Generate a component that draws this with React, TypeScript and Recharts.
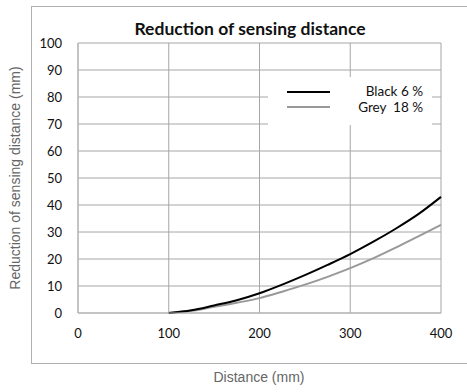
import { LineChart, Line, XAxis, YAxis, CartesianGrid } from 'recharts';

const distance = [100, 125, 150, 175, 200, 225, 250, 275, 300, 325, 350, 375, 400];
const black6 = [0, 1.0, 2.8, 4.7, 7.3, 10.5, 14.0, 17.8, 21.8, 26.3, 31.2, 36.6, 43.0];
const grey18 = [0, 0.8, 2.3, 3.8, 5.5, 7.9, 10.5, 13.4, 16.6, 20.2, 24.2, 28.4, 32.6];

const xTicks = [0, 100, 200, 300, 400];
const xMinorTicks = [0, 50, 100, 150, 200, 250, 300, 350, 400];
const yTicks = [0, 10, 20, 30, 40, 50, 60, 70, 80, 90, 100];
const yMinorTicks = Array.from({ length: 51 }, (_, i) => i * 2);

const data = distance.map((d, i) => ({ d, black: black6[i], grey: grey18[i] }));

const tickFont = { fill: '#111', fontSize: 13, fontFamily: 'Lato, sans-serif' };

export default function App() {
  return (
    <div style={{ position: 'absolute', left: 0, top: 0, width: 467, height: 392, background: '#fff', overflow: 'hidden' }}>
      {/* outer frame */}
      <div style={{ position: 'absolute', left: 31, top: 6, width: 450, height: 356, border: '1px solid #b0b0b0' }} />

      <div style={{ position: 'absolute', left: 0, top: 0 }}>
        <LineChart width={467} height={392} data={data} margin={{ top: 43, right: 26, bottom: 49, left: 38 }}>
          <CartesianGrid stroke="#a6a6a6" strokeWidth={1} />
          <XAxis
            dataKey="d"
            type="number"
            domain={[0, 400]}
            ticks={xTicks}
            height={30}
            axisLine={{ stroke: '#b5b5b5' }}
            tickLine={false}
            tickMargin={10}
            tick={tickFont}
          />
          <XAxis
            xAxisId="minor"
            dataKey="d"
            type="number"
            domain={[0, 400]}
            ticks={xMinorTicks}
            mirror
            axisLine={false}
            tick={false}
            tickSize={4}
            tickLine={{ stroke: '#b5b5b5' }}
          />
          <YAxis
            type="number"
            domain={[0, 100]}
            ticks={yTicks}
            width={40}
            axisLine={{ stroke: '#b5b5b5' }}
            tickLine={false}
            tickMargin={10}
            tick={tickFont}
          />
          <YAxis
            yAxisId="minor"
            type="number"
            domain={[0, 100]}
            ticks={yMinorTicks}
            mirror
            axisLine={false}
            tick={false}
            tickSize={4}
            tickLine={{ stroke: '#c8c8c8' }}
          />
          <Line dataKey="grey" type="monotone" stroke="#999999" strokeWidth={2} dot={false} isAnimationActive={false} />
          <Line dataKey="black" type="monotone" stroke="#000000" strokeWidth={2} dot={false} isAnimationActive={false} />
        </LineChart>
      </div>

      {/* title */}
      <div style={{ position: 'absolute', left: 100, width: 300, top: 19, textAlign: 'center', fontFamily: 'Lato, sans-serif', fontWeight: 700, fontSize: 17.5, color: '#111', lineHeight: '20px' }}>
        Reduction of sensing distance
      </div>

      {/* legend */}
      <div style={{ position: 'absolute', left: 268, top: 77, width: 164, height: 48, background: '#fff', fontFamily: 'Lato, sans-serif', fontSize: 13.5, color: '#111' }}>
        <div style={{ position: 'absolute', left: 19, top: 14, width: 43, height: 2, background: '#000' }} />
        <div style={{ position: 'absolute', right: 9, top: 6, lineHeight: '16px' }}>Black 6 %</div>
        <div style={{ position: 'absolute', left: 19, top: 29, width: 43, height: 2, background: '#999' }} />
        <div style={{ position: 'absolute', right: 9, top: 22, lineHeight: '16px', whiteSpace: 'pre' }}>Grey  18 %</div>
      </div>

      {/* axis titles */}
      <div style={{ position: 'absolute', left: 15, top: 178, transform: 'translate(-50%, -50%) rotate(-90deg)', whiteSpace: 'nowrap', fontFamily: '"Liberation Sans", Arial, sans-serif', fontSize: 14, color: '#666' }}>
        Reduction of sensing distance (mm)
      </div>
      <div style={{ position: 'absolute', left: 259, top: 377, transform: 'translate(-50%, -50%)', whiteSpace: 'nowrap', fontFamily: '"Liberation Sans", Arial, sans-serif', fontSize: 14, color: '#666' }}>
        Distance (mm)
      </div>
    </div>
  );
}
